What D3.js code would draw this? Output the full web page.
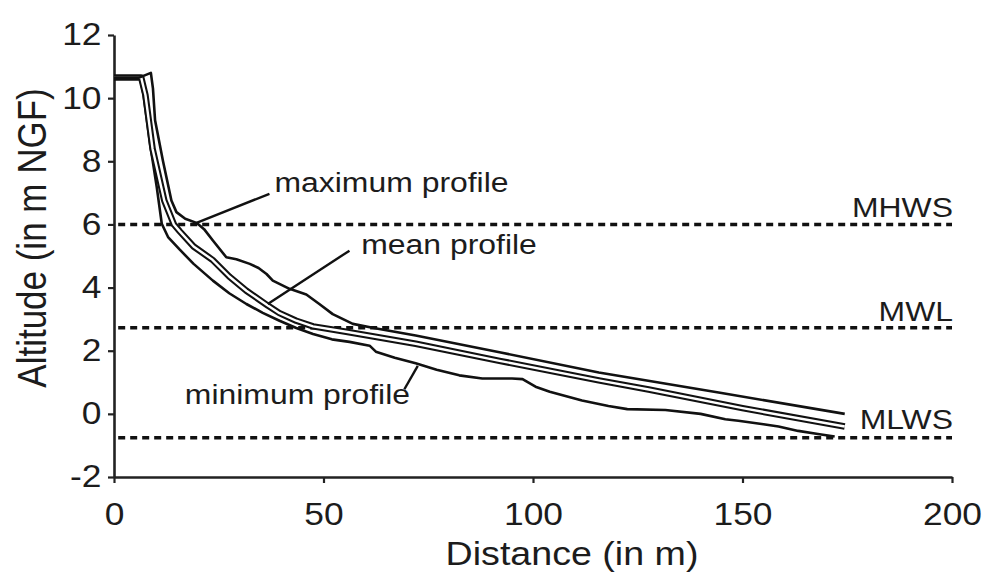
<!DOCTYPE html>
<html>
<head>
<meta charset="utf-8">
<script src="https://cdn.jsdelivr.net/npm/d3@7"></script>
<style>
    body { margin: 0; background: #fff; }
    svg { display: block; }
    text { font-family: "Liberation Sans", Arial, sans-serif; fill: #1c1c1c; }
</style>
</head>
<body>
<div id="chart"></div>
<script>
// profiles: [distance (m), altitude (m NGF)]
const maxProfile = [
    [0, 10.65], [6, 10.65], [8.8, 10.8], [9.3, 10.3], [9.8, 9.3], [11.7, 8.0], [13.7, 6.76],
    [14.9, 6.39], [17, 6.18], [19.7, 6.05], [21.5, 5.85], [23.6, 5.49], [26.8, 4.96],
    [29.2, 4.9], [32.4, 4.75], [34.5, 4.62], [36.4, 4.43], [37.9, 4.22], [41.9, 3.96],
    [45.9, 3.78], [49, 3.48], [52.2, 3.16], [57, 2.85], [62, 2.72], [72, 2.48],
    [92, 1.95], [115.7, 1.31], [145, 0.66], [174.4, 0.0]
];
const meanProfile = [
    [0, 10.65], [6.5, 10.65], [7.5, 10.1], [9.2, 8.4], [12, 6.76], [14.3, 6.0], [15.7, 5.78],
    [19, 5.3], [23.5, 4.88], [27.5, 4.35], [31.6, 3.9], [36.7, 3.43], [39.5, 3.19],
    [43.5, 2.95], [47.5, 2.77], [55.4, 2.6], [62, 2.45], [72, 2.22], [92, 1.68],
    [115.7, 1.06], [127.6, 0.77], [150, 0.18], [174.4, -0.4]
];
const minProfile = [
    [0, 10.65], [6.2, 10.65], [7, 10.15], [8.6, 8.56], [10.2, 7.18], [11.4, 6.02], [12.9, 5.6],
    [15.7, 5.2], [19, 4.75], [23.6, 4.22], [27.5, 3.82], [31.6, 3.48], [35.5, 3.2],
    [39.5, 2.95], [43.5, 2.72], [47.5, 2.53], [52, 2.36], [56.2, 2.28], [61, 2.16],
    [62.5, 1.97], [67, 1.78], [72, 1.6], [77, 1.4], [82.4, 1.22], [87.9, 1.12], [95, 1.12],
    [97.5, 1.1], [100.6, 0.86], [104, 0.7], [111.7, 0.42], [118, 0.25], [122.5, 0.15],
    [131.6, 0.12], [140, 0.0], [145.9, -0.17], [149, -0.22], [155, -0.33], [158.6, -0.4],
    [163.3, -0.54], [168, -0.64], [172, -0.72]
];

const xTicks = [0, 50, 100, 150, 200];
const yTicks = [-2, 0, 2, 4, 6, 8, 10, 12];

// tide levels
const levelNames = ['MHWS', 'MWL', 'MLWS'];
const levelValues = [6, 2.73, -0.76];

// annotations: text start and leader line, in data units
const annoLabels = ['maximum profile', 'mean profile', 'minimum profile'];
const annoAnchors = [[38.3, 7.02], [59, 5.07], [16.9, 0.32]];
const annoLeaders = [
    [[19.7, 6.05], [37.1, 6.97]],
    [[36.7, 3.48], [56.2, 5.17]],
    [[69.3, 0.78], [72.5, 1.52]]
];

class ProfileChart {
    constructor(container) {
        this.container = container;
        this.width = 999;
        this.height = 574;
        this.stretch = 1.14;   // text in the picture is a bit wide
        this.init();
    }

    init() {
        d3.select(this.container).html("");
        this.svg = d3.select(this.container)
            .append("svg")
            .attr("width", this.width)
            .attr("height", this.height);
    }

    render() {
        const x = d3.scaleLinear().domain([0, 200]).range([114, 952]);
        const y = d3.scaleLinear().domain([-2, 12]).range([477, 35]);
        const svg = this.svg;
        const k = this.stretch;

        // 潮位虚线
        levelValues.forEach((v, i) => {
            svg.append("line")
                .attr("x1", x(1)).attr("x2", x(200))
                .attr("y1", y(v)).attr("y2", y(v))
                .attr("stroke", "#111")
                .attr("stroke-width", 3.5)
                .attr("stroke-dasharray", "7,5");
            svg.append("text")
                .attr("transform", `translate(${x(200) + 1},${y(v) - (i === 2 ? 9 : 7)}) scale(${k},1)`)
                .attr("text-anchor", "end")
                .style("font-size", "28px")
                .text(levelNames[i]);
        });

        // axes (plain hyphen for negatives, like the original)
        const yAxis = svg.append("g")
            .attr("transform", `translate(${x(0)},0)`)
            .call(d3.axisLeft(y).tickValues(yTicks).tickFormat(d => String(d))
                .tickSize(6).tickSizeOuter(0).tickPadding(5));
        const xAxis = svg.append("g")
            .attr("transform", `translate(0,${y(-2)})`)
            .call(d3.axisBottom(x).tickValues(xTicks).tickFormat(d => String(d))
                .tickSize(6).tickSizeOuter(0).tickPadding(20));

        [yAxis, xAxis].forEach(ax => {
            ax.select(".domain").attr("stroke", "#222").attr("stroke-width", 2.6);
            ax.selectAll(".tick line").attr("stroke", "#222").attr("stroke-width", 2.2);
            ax.selectAll(".tick text")
                .attr("fill", "#1c1c1c")
                .style("font-size", "31px")
                .style("font-family", '"Liberation Sans", Arial, sans-serif')
                .attr("transform", `scale(${k},1)`);
        });

        svg.append("text")
            .attr("transform", `translate(572,565) scale(${k},1)`)
            .attr("text-anchor", "middle")
            .style("font-size", "33px")
            .text("Distance (in m)");

        svg.append("text")
            .attr("transform", `translate(46,238) rotate(-90) scale(1,${k})`)
            .attr("text-anchor", "middle")
            .style("font-size", "35px")
            .text("Altitude (in m NGF)");

        // profiles
        const line = d3.line()
            .x(d => x(d[0]))
            .y(d => y(d[1]));

        svg.append("path")
            .datum(minProfile)
            .attr("d", line)
            .attr("fill", "none")
            .attr("stroke", "#111")
            .attr("stroke-width", 2.6)
            .attr("stroke-linejoin", "round");

        // mean profile is drawn as a hollow double line
        svg.append("path")
            .datum(meanProfile)
            .attr("d", line)
            .attr("fill", "none")
            .attr("stroke", "#111")
            .attr("stroke-width", 6.5)
            .attr("stroke-linejoin", "round");
        svg.append("path")
            .datum(meanProfile)
            .attr("d", line)
            .attr("fill", "none")
            .attr("stroke", "#fff")
            .attr("stroke-width", 2.4)
            .attr("stroke-linejoin", "round");

        svg.append("path")
            .datum(maxProfile)
            .attr("d", line)
            .attr("fill", "none")
            .attr("stroke", "#111")
            .attr("stroke-width", 2.6)
            .attr("stroke-linejoin", "round");

        // annotation leaders and labels
        annoLeaders.forEach(seg => {
            svg.append("line")
                .attr("x1", x(seg[0][0])).attr("y1", y(seg[0][1]))
                .attr("x2", x(seg[1][0])).attr("y2", y(seg[1][1]))
                .attr("stroke", "#111")
                .attr("stroke-width", 2.4);
        });
        annoLabels.forEach((t, i) => {
            svg.append("text")
                .attr("transform", `translate(${x(annoAnchors[i][0])},${y(annoAnchors[i][1])}) scale(${k},1)`)
                .style("font-size", "28px")
                .text(t);
        });
    }
}

const chart = new ProfileChart("#chart");
chart.render();
</script>
</body>
</html>
